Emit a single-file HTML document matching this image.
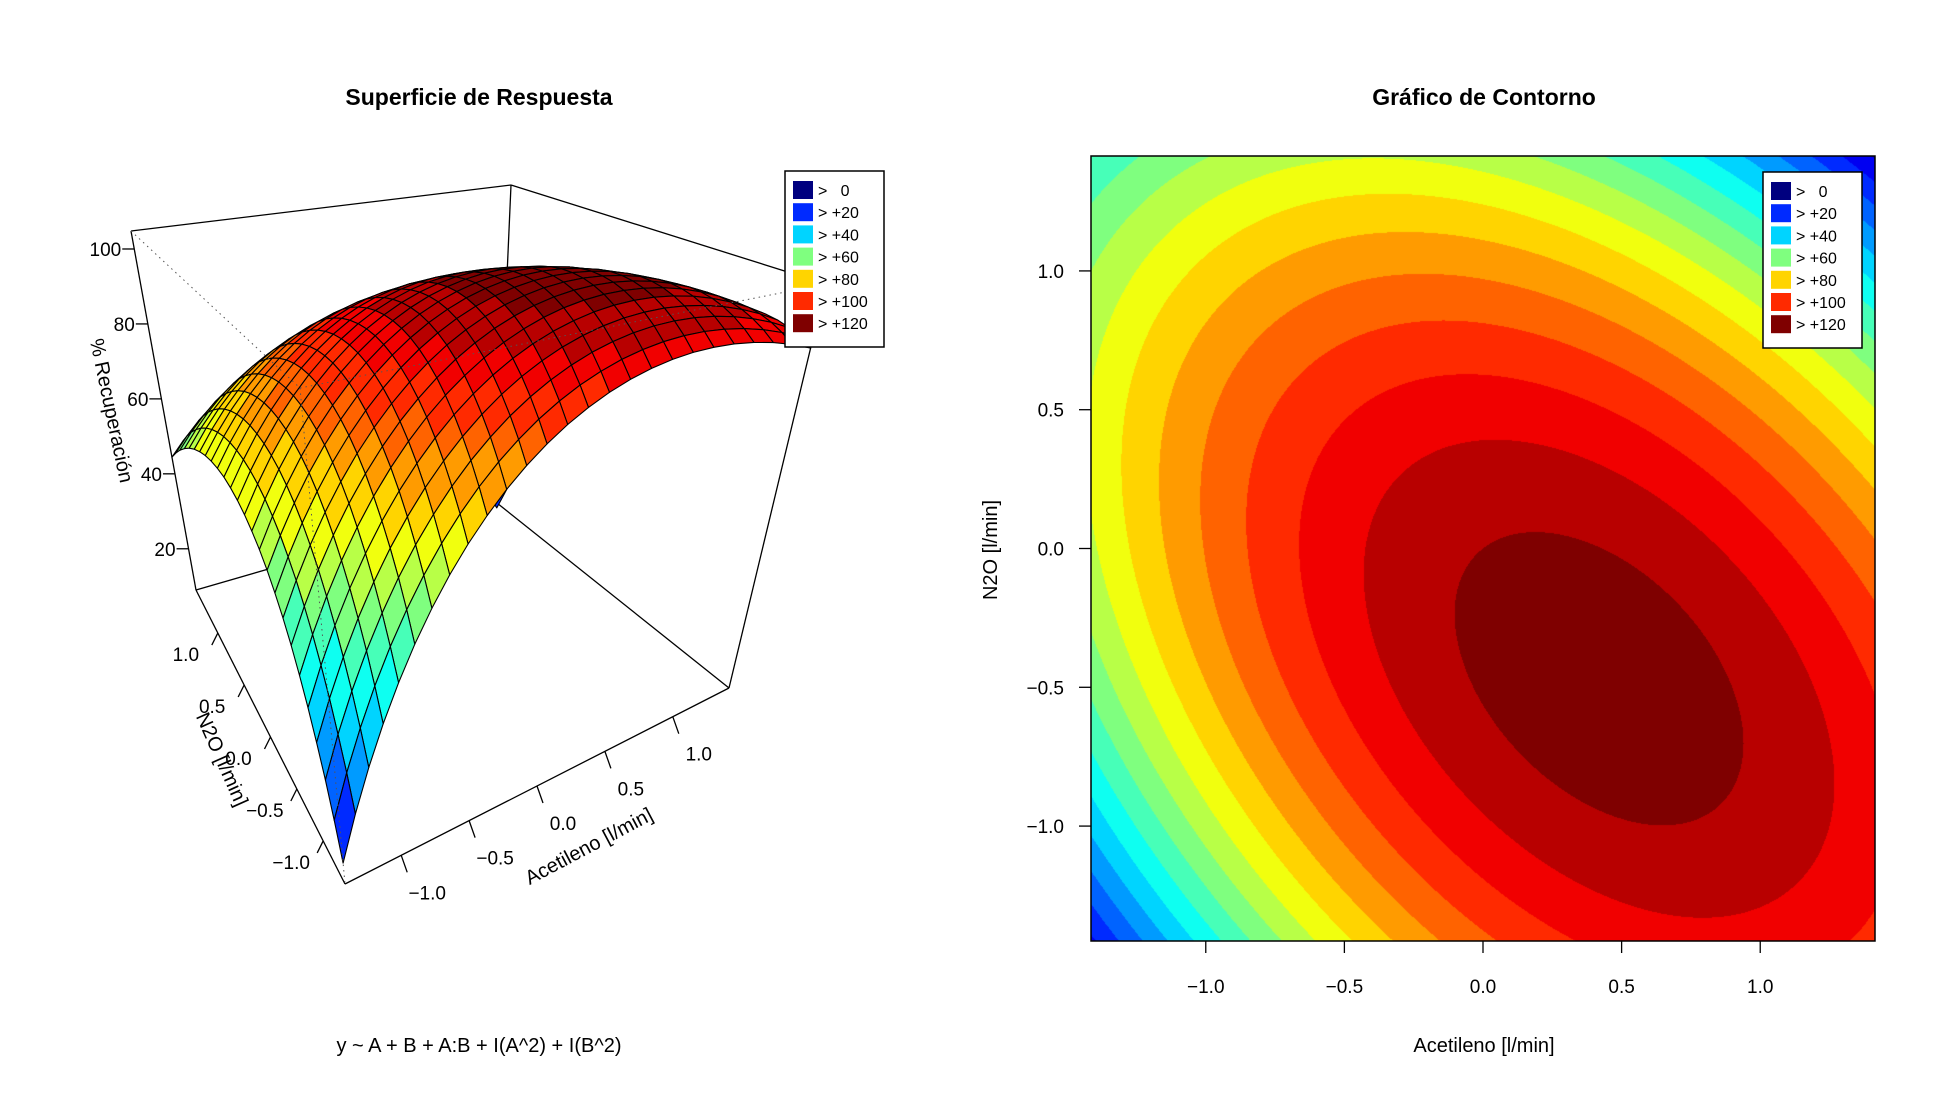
<!DOCTYPE html>
<html><head><meta charset="utf-8">
<style>
body{margin:0;background:#fff;}
#wrap{position:relative;width:1960px;height:1111px;overflow:hidden;font-family:"Liberation Sans",sans-serif;}
svg text{font-family:"Liberation Sans",sans-serif;}
</style></head>
<body>
<div id="wrap">
<canvas id="cv" width="784" height="785" style="position:absolute;left:1091px;top:156px;"></canvas>
<svg id="sv" width="1960" height="1111" style="position:absolute;left:0;top:0;"></svg>
</div>
<script>
// model coefficients: [intercept, A, B, A:B, A^2, B^2]
const coefNames = ["b0","A","B","AB","A2","B2"];
const coefValues = [120.0, 7.9, -10.1, -16.0, -18.4, -17.9];
const bandLevels = [0,20,40,60,80,100,120];
const legendLabels = [">\u00a0\u00a0\u00a00","> +20","> +40","> +60","> +80","> +100","> +120"];
const xTickValues = [-1.0,-0.5,0.0,0.5,1.0];
const xTickLabels = ["\u22121.0","\u22120.5","0.0","0.5","1.0"];
const zTickValues = [20,40,60,80,100];
const zTickLabels = ["20","40","60","80","100"];

const NS="http://www.w3.org/2000/svg";
const svg=document.getElementById('sv');
function el(tag,attrs,parent){const e=document.createElementNS(NS,tag);for(const k in attrs)e.setAttribute(k,attrs[k]);(parent||svg).appendChild(e);return e;}
function f(A,B){const c=coefValues;return c[0]+c[1]*A+c[2]*B+c[3]*A*B+c[4]*A*A+c[5]*B*B;}
const stops=[[0,0,127],[0,0,255],[0,127,255],[0,255,255],[127,255,127],[255,255,0],[255,127,0],[255,0,0],[127,0,0]];
function jet(t){t=Math.max(0,Math.min(1,t));const p=t*8;const i=Math.min(7,Math.floor(p));const r=p-i;const a=stops[i],b=stops[i+1];return [0,1,2].map(k=>Math.round(a[k]+(b[k]-a[k])*r));}
const bandW=20/3, maxBand=18;
function bandColor(v){let k=Math.floor(v/bandW);k=Math.max(0,Math.min(maxBand,k));return jet(k/maxBand);}
function rgb(c){return `rgb(${c[0]},${c[1]},${c[2]})`;}
const lim=1.414;

// ---------- contour ----------
const cv=document.getElementById('cv');const ctx=cv.getContext('2d');
const W=cv.width,H=cv.height;const img=ctx.createImageData(W,H);
for(let py=0;py<H;py++){const B=lim-(py+0.5)/H*2*lim;for(let px=0;px<W;px++){const A=-lim+(px+0.5)/W*2*lim;const c=bandColor(f(A,B));const o=(py*W+px)*4;img.data[o]=c[0];img.data[o+1]=c[1];img.data[o+2]=c[2];img.data[o+3]=255;}}
ctx.putImageData(img,0,0);
const cx0=1091,cy0=156;
const sxC=v=>cx0+(v+lim)/(2*lim)*W, syC=v=>cy0+(lim-v)/(2*lim)*H;
el('rect',{x:cx0,y:cy0,width:W,height:H,fill:'none',stroke:'#000','stroke-width':1.5,});
xTickValues.forEach((v,i)=>{
  const x=sxC(v);
  const t=el('line',{x1:x,y1:cy0+H,x2:x,y2:cy0+H+12,stroke:'#000','stroke-width':1.3});
  
  const l=el('text',{x:x,y:993,'font-size':19,'text-anchor':'middle'});l.textContent=xTickLabels[i];
  
  const y=syC(v);
  const t2=el('line',{x1:cx0,y1:y,x2:cx0-12,y2:y,stroke:'#000','stroke-width':1.3});
  
  const l2=el('text',{x:1064,y:y+7,'font-size':19,'text-anchor':'end'});l2.textContent=xTickLabels[i];
  
});
let tt=el('text',{x:1484,y:1052,'font-size':20,'text-anchor':'middle',});tt.textContent='Acetileno [l/min]';
tt=el('text',{x:0,y:0,'font-size':20,'text-anchor':'middle',transform:'translate(997,550) rotate(-90)',});tt.textContent='N2O [l/min]';
tt=el('text',{x:1484,y:105,'font-size':23,'font-weight':'bold','text-anchor':'middle',});tt.textContent='Gráfico de Contorno';
tt=el('text',{x:479,y:105,'font-size':23,'font-weight':'bold','text-anchor':'middle',});tt.textContent='Superficie de Respuesta';
tt=el('text',{x:479,y:1052,'font-size':20,'text-anchor':'middle',});tt.textContent='y ~ A + B + A:B + I(A^2) + I(B^2)';

// ---------- legend ----------
function legend(x,y,name){
  const g=el('g',{});
  el('rect',{x:x,y:y,width:99,height:176,fill:'#fff',stroke:'#000','stroke-width':1.5},g);
  bandLevels.forEach((lv,i)=>{
    const yy=y+10+i*22.2;
    const r=el('rect',{x:x+8,y:yy,width:20,height:18,fill:rgb(bandColor(lv+0.01))},g);
    
    const t=el('text',{x:x+33,y:yy+15,'font-size':16},g);t.textContent=legendLabels[i];
    
  });
}

// ---------- 3D surface ----------
const F0=[345,884],R0=[729,688],L0=[196,590],K0=[497,503];
const F1=[300,388],R1=[826,284],L1=[131,231],K1=[511,185];
const zLo=14,zHi=122;
function bil(P,Q,Rr,S,u,v){return [0,1].map(k=>(1-u)*(1-v)*P[k]+u*(1-v)*Q[k]+(1-u)*v*Rr[k]+u*v*S[k]);}
function proj(A,B,z){const u=(A+lim)/(2*lim),v=(B+lim)/(2*lim);const b=bil(F0,R0,L0,K0,u,v),t=bil(F1,R1,L1,K1,u,v);const w=(z-zLo)/(zHi-zLo);return [b[0]+(t[0]-b[0])*w,b[1]+(t[1]-b[1])*w,b[1]];}
function line(a,b,extra,name){const l=el('line',Object.assign({x1:a[0],y1:a[1],x2:b[0],y2:b[1],stroke:'#000','stroke-width':1.3},extra||{}));}
line(L1,K1,null,'box-edge');line(K1,R1,null,'box-edge');line(L0,L1,null,'box-edge');line(R0,R1,null,'box-edge');
line(K0,K1,null,'box-edge');line(K0,L0,null,'box-edge');line(K0,R0,null,'box-edge');line(F0,L0,null,'box-edge');line(F0,R0,null,'box-edge');
const N=25;const facets=[];
for(let i=0;i<N;i++)for(let j=0;j<N;j++){
  const a0=-lim+i*2*lim/N,a1=-lim+(i+1)*2*lim/N,b0=-lim+j*2*lim/N,b1=-lim+(j+1)*2*lim/N;
  const pts=[[a0,b0],[a1,b0],[a1,b1],[a0,b1]].map(p=>proj(p[0],p[1],f(p[0],p[1])));
  const mv=f((a0+a1)/2,(b0+b1)/2);
  const depth=proj((a0+a1)/2,(b0+b1)/2,0)[2];
  facets.push({pts,mv,depth});
}
facets.sort((p,q)=>p.depth-q.depth);
const sg=el('g',{});
facets.forEach(fc=>{
  const p=el('polygon',{points:fc.pts.map(q=>q[0].toFixed(1)+','+q[1].toFixed(1)).join(' '),fill:rgb(bandColor(fc.mv)),stroke:'#000','stroke-width':1.1,'stroke-linejoin':'round'},sg);
  
});
const dot={stroke:'#555','stroke-width':1,'stroke-dasharray':'1.5,4'};
line(L1,F1,dot,'hidden-edge');line(F1,R1,dot,'hidden-edge');line(F1,F0,dot,'hidden-edge');
xTickValues.forEach((v,i)=>{
  const p=proj(-lim,v,zLo);
  line([p[0],p[1]],[p[0]-6,p[1]+12],null,'n2o-tick');
  const t=el('text',{x:p[0]-32,y:p[1]+28,'font-size':19,'text-anchor':'middle'});t.textContent=xTickLabels[i];
  
  const q=proj(v,-lim,zLo);
  line([q[0],q[1]],[q[0]+6,q[1]+17],null,'acetileno-tick');
  const t2=el('text',{x:q[0]+26,y:q[1]+44,'font-size':19,'text-anchor':'middle'});t2.textContent=xTickLabels[i];
  
});
const zLabLo=9,zLabHi=104.8;
zTickValues.forEach((v,i)=>{
  const w=(v-zLabLo)/(zLabHi-zLabLo);
  const p=[L0[0]+(L1[0]-L0[0])*w,L0[1]+(L1[1]-L0[1])*w];
  line(p,[p[0]-12,p[1]],null,'z-tick');
  const t=el('text',{x:p[0]-13,y:p[1]+7,'font-size':19,'text-anchor':'end'});t.textContent=zTickLabels[i];
  
});
tt=el('text',{x:0,y:0,'font-size':20,'text-anchor':'middle',transform:'translate(105,412) rotate(78)',});tt.textContent='% Recuperación';
tt=el('text',{x:0,y:0,'font-size':20,'text-anchor':'middle',transform:'translate(216,762) rotate(66)',});tt.textContent='N2O [l/min]';
tt=el('text',{x:0,y:0,'font-size':20,'text-anchor':'middle',transform:'translate(592,852) rotate(-28)',});tt.textContent='Acetileno [l/min]';
legend(785,171,'surface-legend');
legend(1763,172,'contour-legend');
</script>
</body></html>
